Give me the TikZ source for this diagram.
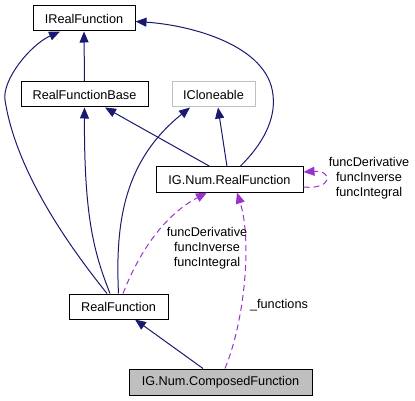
\documentclass[tikz,border=0pt]{standalone}
\usepackage{fontspec}
\setmainfont{Liberation Sans}
\usetikzlibrary{arrows.meta}
\definecolor{edgeblue}{HTML}{191970}
\definecolor{edgepurple}{HTML}{9A32CD}
\definecolor{boxgray}{HTML}{BFBFBF}
\tikzset{
  cls/.style={draw=black, line width=1pt, minimum height=25pt, inner sep=0pt,
    font=\fontsize{12.7}{15}\selectfont},
  lbl/.style={align=center, inner sep=0pt, font=\fontsize{12.7}{15}\selectfont},
  tip/.style={-{Triangle[length=11pt,width=9pt]}}
}
\begin{document}
\begin{tikzpicture}[x=1pt,y=-1pt]
  \useasboundingbox (0,0) rectangle (415,401);

  % Klassen
  \node[cls, minimum width=102pt] (irf) at (84,18.5) {IRealFunction};
  \node[cls, minimum width=127pt] (rfb) at (84.5,94.5) {RealFunctionBase};
  \node[cls, draw=boxgray, minimum width=83pt] (icl) at (213.5,94.5) {ICloneable};
  \node[cls, minimum width=147pt] (numrf) at (229.5,179.5) {IG.Num.RealFunction};
  \node[cls, minimum width=99pt] (rf) at (118.5,306.5) {RealFunction};
  \node[cls, fill=boxgray, minimum width=183pt, minimum height=26pt] (numcf) at (220.5,382) {IG.Num.ComposedFunction};

  % Vererbung
  \begin{scope}[edgeblue, line width=1pt, tip]
      \draw (rfb.north) -- (irf.south);
      \draw ([xshift=-11.5pt]rf.north) .. controls (60,235) and (15,165) .. (5,100)
            .. controls (2,80) and (30,45) .. ([xshift=-24pt]irf.south);
      \draw ([xshift=-8.5pt]rf.north) .. controls (95,255) and (84,220) .. (rfb.south);
      \draw (rf.north) .. controls (115,220) and (125,160) .. ([xshift=-23.5pt]icl.south);
      \draw ([xshift=-19.5pt]numrf.north) -- ([xshift=20.5pt]rfb.south);
      \draw ([xshift=-2.5pt]numrf.north) -- ([xshift=4.5pt]icl.south);
      \draw ([xshift=10.5pt]numrf.north) .. controls (262,145) and (276,120) .. (273,95)
            .. controls (268,45) and (190,25) .. ([yshift=-3pt]irf.east);
      \draw ([xshift=-17.5pt]numcf.north) -- ([xshift=16.5pt]rf.south);
  \end{scope}

  % Benutzung
  \begin{scope}[edgepurple, line width=1pt, dash pattern=on 6pt off 4pt, tip]
      \draw ([xshift=4.5pt]rf.north) .. controls (140,250) and (165,215) .. ([xshift=-22.5pt]numrf.south);
      \draw ([xshift=4.5pt]numcf.north) .. controls (245,320) and (252,240) .. ([xshift=7.5pt]numrf.south);
      \draw ([yshift=-7.5pt]numrf.east) .. controls (333,190) and (333,170) .. ([yshift=7.5pt]numrf.east);
  \end{scope}

  \node[lbl] (lderiv) at (207,248) {funcDerivative\\funcInverse\\funcIntegral};
  \node[lbl] (lself) at (369,178) {funcDerivative\\funcInverse\\funcIntegral};
  \node[lbl] (lfunc) at (279,305) {\_functions};
\end{tikzpicture}
\end{document}
